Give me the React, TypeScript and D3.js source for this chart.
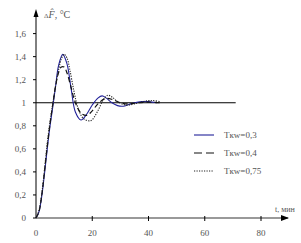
import React, { useEffect, useRef } from 'react'
import * as d3 from 'd3'

// ось Y
const yTicks = [0, 0.2, 0.4, 0.6, 0.8, 1, 1.2, 1.4, 1.6]
const xTicks = [0, 20, 40, 60, 80]

// Tkw = 0,3
const t03 = [0, 1, 2, 3, 4, 5, 6, 7, 8, 9.5, 11, 12.5, 14, 16, 18, 20, 22, 23.5, 25, 27, 29, 31, 33, 35, 37.5, 40, 43]
const v03 = [0, 0.05, 0.18, 0.38, 0.6, 0.8, 0.97, 1.15, 1.32, 1.42, 1.34, 1.12, 0.92, 0.85, 0.9, 0.98, 1.04, 1.06, 1.04, 1.0, 0.975, 0.97, 0.985, 1.0, 1.01, 1.01, 1.0]

// Tkw = 0,4
const t04 = [0, 1, 2, 3, 4, 5, 6, 7, 8, 9, 10, 11, 12.5, 14, 16, 18, 20, 22, 24.5, 27, 30, 33, 36, 40, 44]
const v04 = [0, 0.05, 0.19, 0.4, 0.62, 0.82, 0.99, 1.15, 1.26, 1.31, 1.31, 1.26, 1.13, 1.0, 0.91, 0.89, 0.93, 0.99, 1.035, 1.03, 1.0, 0.99, 1.0, 1.005, 1.0]

// Tkw = 0,75
const t075 = [0, 1, 2, 3, 4, 5, 6, 7, 8, 9, 10, 11, 12, 13.5, 15, 17, 19.5, 22, 24, 25.5, 27, 29, 32, 35, 38, 41, 44]
const v075 = [0, 0.06, 0.2, 0.42, 0.65, 0.84, 1.0, 1.15, 1.28, 1.38, 1.42, 1.39, 1.29, 1.1, 0.95, 0.86, 0.845, 0.93, 1.03, 1.065, 1.05, 1.01, 0.98, 0.99, 1.01, 1.02, 1.01]

const legendLabels = ['Tкw=0,3', 'Tкw=0,4', 'Tкw=0,75']
const setpoint = 1
const setpointEnd = 71

export default function App () {
    const ref = useRef<SVGSVGElement>(null)

    useEffect(() => {
        const svg = d3.select(ref.current)
        svg.selectAll('*').remove()
        svg.attr('font-family', '"Liberation Serif", serif')

        const x = d3.scaleLinear().domain([0, 80]).range([36, 261])
        const y = d3.scaleLinear().domain([0, 1.6]).range([218, 33.6])
        const txt = '#555'

        // горизонтальная ось
        svg.append('line')
            .attr('x1', x(0)).attr('x2', 288).attr('y1', y(0)).attr('y2', y(0))
            .attr('stroke', '#999').attr('stroke-width', 2)
        svg.append('path').attr('d', `M281,${y(0) - 3}L289,${y(0)}L281,${y(0) + 3}z`).attr('fill', '#000')
        svg.selectAll('.xt').data(xTicks.slice(1)).enter().append('line')
            .attr('x1', d => x(d)).attr('x2', d => x(d))
            .attr('y1', y(0) - 2).attr('y2', y(0) + 3)
            .attr('stroke', '#000').attr('stroke-width', 1)
        svg.selectAll('.xl').data(xTicks).enter().append('text')
            .attr('x', d => x(d)).attr('y', 236)
            .attr('text-anchor', 'middle')
            .attr('font-size', 9).attr('fill', txt)
            .text(d => d)
        svg.append('text').attr('x', 275).attr('y', 212)
            .attr('font-size', 8).attr('fill', txt).text('t, мин')

        // вертикальная ось
        svg.append('line')
            .attr('x1', x(0)).attr('x2', x(0)).attr('y1', y(0)).attr('y2', 16)
            .attr('stroke', '#000').attr('stroke-width', 1)
        svg.append('path').attr('d', `M${x(0) - 2.5},17L${x(0)},9L${x(0) + 2.5},17z`).attr('fill', '#000')
        svg.selectAll('.yt').data(yTicks).enter().append('line')
            .attr('x1', x(0) - 3).attr('x2', x(0))
            .attr('y1', d => y(d)).attr('y2', d => y(d))
            .attr('stroke', '#000').attr('stroke-width', 1)
        svg.selectAll('.yl').data(yTicks).enter().append('text')
            .attr('x', 26).attr('y', d => y(d) + 3)
            .attr('text-anchor', 'end')
            .attr('font-size', 9).attr('fill', txt)
            .text(d => d3.format('.1f')(d).replace('.', ',').replace(',0', ''))
        const yl = svg.append('text').attr('x', 44).attr('y', 18)
            .attr('font-size', 10).attr('fill', txt)
        yl.append('tspan').attr('font-size', 7).text('Δ')
        yl.append('tspan').attr('font-style', 'italic').text('F\u0302')
        yl.append('tspan').text(', °C')

        // уставка
        svg.append('line')
            .attr('x1', x(0)).attr('x2', x(setpointEnd))
            .attr('y1', y(setpoint)).attr('y2', y(setpoint))
            .attr('stroke', '#000').attr('stroke-width', 1.2)

        const series = [
            { t: t03, v: v03, color: '#22229a', dash: null, w: 1.1 },
            { t: t04, v: v04, color: '#111', dash: '5,3', w: 1.2 },
            { t: t075, v: v075, color: '#222', dash: '1.2,1.3', w: 1.1 },
        ]
        const line = d3.line<[number, number]>()
            .x(d => x(d[0])).y(d => y(d[1]))
            .curve(d3.curveCatmullRom)

        series.forEach(s => {
            const pts = s.t.map((t, i) => [t, s.v[i]] as [number, number])
            svg.append('path').attr('d', line(pts))
                .attr('fill', 'none').attr('stroke', s.color)
                .attr('stroke-width', s.w)
                .attr('stroke-dasharray', s.dash)
        })

        // легенда
        const lg = svg.append('g')
        series.forEach((s, i) => {
            const ly = 135 + i * 18
            lg.append('line').attr('x1', 194).attr('x2', 214)
                .attr('y1', ly).attr('y2', ly)
                .attr('stroke', s.color).attr('stroke-width', s.w)
                .attr('stroke-dasharray', i === 1 ? '8,4' : s.dash)
            lg.append('text').attr('x', 224).attr('y', ly + 3)
                .attr('font-size', 9).attr('fill', txt)
                .text(legendLabels[i])
        })
    }, [])

    return (
        <svg ref={ref} width={301} height={243}
            style={{ position: 'absolute', left: 0, top: 0, background: '#fff' }} />
    )
}
